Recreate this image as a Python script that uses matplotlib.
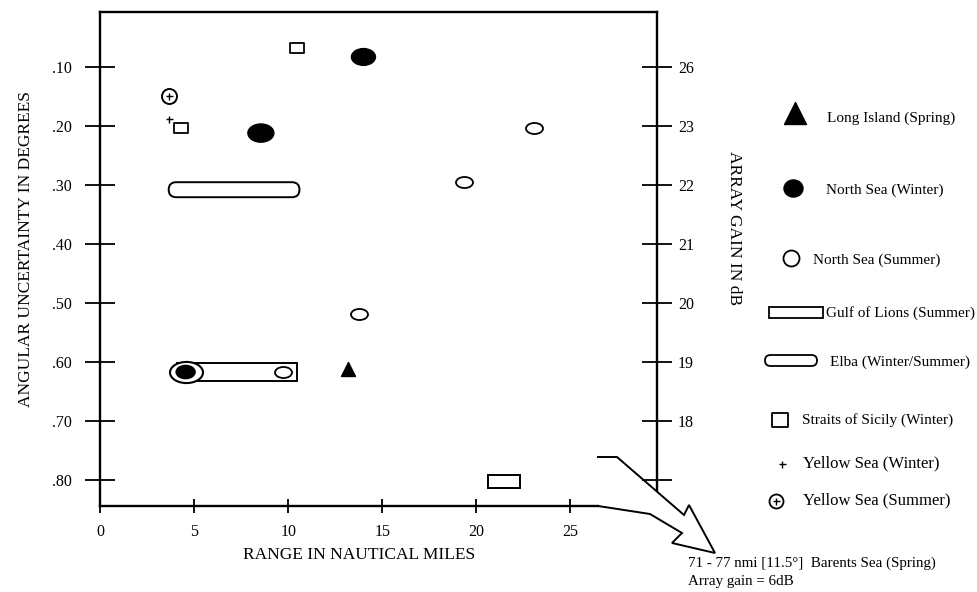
import matplotlib
matplotlib.use('Agg')
import matplotlib.pyplot as plt
import numpy as np
from matplotlib.path import Path
from matplotlib.patches import Rectangle, FancyBboxPatch

plt.rcParams['font.family'] = ['Liberation Serif', 'DejaVu Serif']

# ---------------- data ----------------
range_ticks = [0, 5, 10, 15, 20, 25]
angle_ticks = [0.10, 0.20, 0.30, 0.40, 0.50, 0.60, 0.70, 0.80]
angle_tick_labels = ['.10', '.20', '.30', '.40', '.50', '.60', '.70', '.80']
gain_tick_labels = ['26', '23', '22', '21', '20', '19', '18', '']

long_island_x = [13.2]
long_island_y = [0.612]

north_sea_winter_x = [14.0, 8.55, 4.55]
north_sea_winter_y = [0.083, 0.212, 0.617]

north_sea_summer_x = [19.35, 23.05, 13.75, 9.7]
north_sea_summer_y = [0.295, 0.203, 0.519, 0.617]

overlap_ring_x = [4.55]
overlap_ring_y = [0.617]

gulf_start = [4.1, 20.6]
gulf_end = [10.45, 22.3]
gulf_y = [0.617, 0.8025]

elba_start = [3.65]
elba_end = [10.6]
elba_y = [0.308]

sicily_x = [10.45, 4.3]
sicily_y = [0.068, 0.203]

yellow_winter_x = [3.65]
yellow_winter_y = [0.188]

yellow_summer_x = [3.65]
yellow_summer_y = [0.149]

legend_labels = ['Long Island (Spring)', 'North Sea (Winter)', 'North Sea (Summer)',
                 'Gulf of Lions (Summer)', 'Elba (Winter/Summer)',
                 'Straits of Sicily (Winter)', 'Yellow Sea (Winter)', 'Yellow Sea (Summer)']

# ---------------- layout ----------------
W, H = 977, 592
fig = plt.figure(figsize=(W / 100, H / 100), dpi=100)
L, R, T, B = 100, 657, 12, 506
ax = fig.add_axes([L / W, 1 - B / H, (R - L) / W, (B - T) / H])
xlim = (0, 29.6)
ylim = (0.8441, 0.0068)
ax.set_xlim(*xlim)
ax.set_ylim(*ylim)
dx_px = (xlim[1] - xlim[0]) / (R - L)
dy_px = (ylim[0] - ylim[1]) / (B - T)

lw_frame = 1.7
for s in ax.spines.values():
    s.set_linewidth(lw_frame)
ax.spines['bottom'].set_bounds(xlim[0], xlim[0] + (598 - L) * dx_px)
ax.spines['right'].set_bounds(ylim[1], ylim[1] + (490 - T) * dy_px)

ax.set_xticks(range_ticks)
ax.set_xticklabels([str(t) for t in range_ticks])
ax.tick_params(axis='x', direction='inout', length=10, width=1.3, pad=8, labelsize=11.5)
ax.set_yticks(angle_ticks)
ax.set_yticklabels(angle_tick_labels)
ax.tick_params(axis='y', direction='inout', length=22, width=1.3, pad=9, labelsize=11.5)

ax2 = ax.twinx()
ax2.set_ylim(*ylim)
ax2.set_yticks(angle_ticks)
ax2.set_yticklabels(gain_tick_labels)
ax2.tick_params(axis='y', direction='inout', length=22, width=1.3, pad=4, labelsize=11.5)
for s in ax2.spines.values():
    s.set_visible(False)


def ellipse_marker(aspect):
    c = Path.unit_circle()
    return Path(c.vertices * np.array([1.0, aspect]), c.codes)


def rect_marker(aspect):
    return Path([(-1, -aspect), (1, -aspect), (1, aspect), (-1, aspect), (-1, -aspect)],
                [Path.MOVETO, Path.LINETO, Path.LINETO, Path.LINETO, Path.CLOSEPOLY])


PT = 0.72  # points per pixel at 100 dpi

# Gulf of Lions rectangles
gulf_h_px = [18, 13]
for xs, xe, y, hp in zip(gulf_start, gulf_end, gulf_y, gulf_h_px):
    h = hp * dy_px
    ax.add_patch(Rectangle((xs, y - h / 2), xe - xs, h, facecolor='white',
                           edgecolor='black', lw=1.4, zorder=2))

# Elba capsules
for xs, xe, y in zip(elba_start, elba_end, elba_y):
    hp = 15
    h = hp * dy_px
    ax.add_patch(FancyBboxPatch((xs, y - h / 2), xe - xs, h,
                                boxstyle=f"round,pad=0,rounding_size={hp / 2 * dx_px}",
                                mutation_aspect=dy_px / dx_px,
                                facecolor='white', edgecolor='black', lw=1.4, zorder=2))

# overlap ring
ax.scatter(overlap_ring_x, overlap_ring_y, marker=ellipse_marker(0.64), s=(33 * PT) ** 2,
           facecolor='white', edgecolor='black', linewidths=1.5, zorder=3)

# North Sea (Winter)
nsw_w = [24, 26, 19]
ax.scatter(north_sea_winter_x, north_sea_winter_y, marker=ellipse_marker(0.7),
           s=[(w * PT) ** 2 for w in nsw_w], facecolor='black', edgecolor='black',
           linewidths=1, zorder=4)

# North Sea (Summer)
ax.scatter(north_sea_summer_x, north_sea_summer_y, marker=ellipse_marker(0.65),
           s=(17 * PT) ** 2, facecolor='white', edgecolor='black', linewidths=1.3, zorder=4)

# Straits of Sicily
ax.scatter(sicily_x, sicily_y, marker=rect_marker(0.7), s=(14.5 * PT) ** 2,
           facecolor='white', edgecolor='black', linewidths=1.3, zorder=4)

# Long Island
ax.scatter(long_island_x, long_island_y, marker='^', s=(14 * PT) ** 2,
           facecolor='black', edgecolor='black', linewidths=1, zorder=4)

# Yellow Sea (Winter)
ax.scatter(yellow_winter_x, yellow_winter_y, marker='+', s=(7 * PT) ** 2,
           color='black', linewidths=1.0, zorder=4)

# Yellow Sea (Summer)
ax.scatter(yellow_summer_x, yellow_summer_y, marker='o', s=(15 * PT) ** 2,
           facecolor='white', edgecolor='black', linewidths=1.4, zorder=4)
ax.scatter(yellow_summer_x, yellow_summer_y, marker='+', s=(7 * PT) ** 2,
           color='black', linewidths=1.0, zorder=5)

# ---------------- overlay (pixel coordinates) ----------------
ov = fig.add_axes([0, 0, 1, 1])
ov.set_xlim(0, W)
ov.set_ylim(H, 0)
ov.axis('off')

ov.text(26, 249, 'ANGULAR UNCERTAINTY IN DEGREES', rotation=90, ha='center',
        va='center', fontsize=12.5)
ov.text(359, 555, 'RANGE IN NAUTICAL MILES', ha='center', va='center', fontsize=12.5)
ov.text(734, 228, 'ARRAY GAIN IN dB', rotation=270, ha='center', va='center', fontsize=12.5)

# arrow to Barents Sea note
arrow_px = [(598, 506), (650, 514), (682, 533), (672, 543), (715, 553),
            (689, 505), (684, 515), (617, 457), (598, 457)]
ov.plot([p[0] for p in arrow_px], [p[1] for p in arrow_px], color='black', lw=1.4,
        solid_joinstyle='miter')

ov.text(688, 563, '71 - 77 nmi [11.5°]  Barents Sea (Spring)', ha='left', va='center',
        fontsize=10.8)
ov.text(688, 582, 'Array gain = 6dB', ha='left', va='center', fontsize=10.8)

# legend markers
ov.scatter([795], [113], marker='^', s=(22 * PT) ** 2, color='black')
ov.scatter([793], [188], marker=ellipse_marker(0.9), s=(19 * PT) ** 2, color='black')
ov.scatter([791], [258], marker='o', s=(16 * PT) ** 2, facecolor='white',
           edgecolor='black', linewidths=1.3)
ov.add_patch(Rectangle((769, 307), 54, 11, facecolor='white', edgecolor='black', lw=1.3))
ov.add_patch(FancyBboxPatch((765, 355), 52, 11, boxstyle="round,pad=0,rounding_size=5.5",
                            facecolor='white', edgecolor='black', lw=1.3))
ov.scatter([780], [420], marker=rect_marker(0.85), s=(16 * PT) ** 2, facecolor='white',
           edgecolor='black', linewidths=1.3)
ov.scatter([782], [464], marker='+', s=(7 * PT) ** 2, color='black', linewidths=1.0)
ov.scatter([776], [501], marker='o', s=(14 * PT) ** 2, facecolor='white',
           edgecolor='black', linewidths=1.3)
ov.scatter([776], [501], marker='+', s=(7 * PT) ** 2, color='black', linewidths=1.0)

legend_pos = [(827, 118, 11), (826, 190, 11), (813, 260, 11), (826, 313, 11),
              (830, 362, 11), (802, 420, 11), (803, 463, 12), (803, 500, 12)]
for (tx, ty, fs), lab in zip(legend_pos, legend_labels):
    ov.text(tx, ty, lab, ha='left', va='center', fontsize=fs)

fig.savefig('out.png', dpi=100)
